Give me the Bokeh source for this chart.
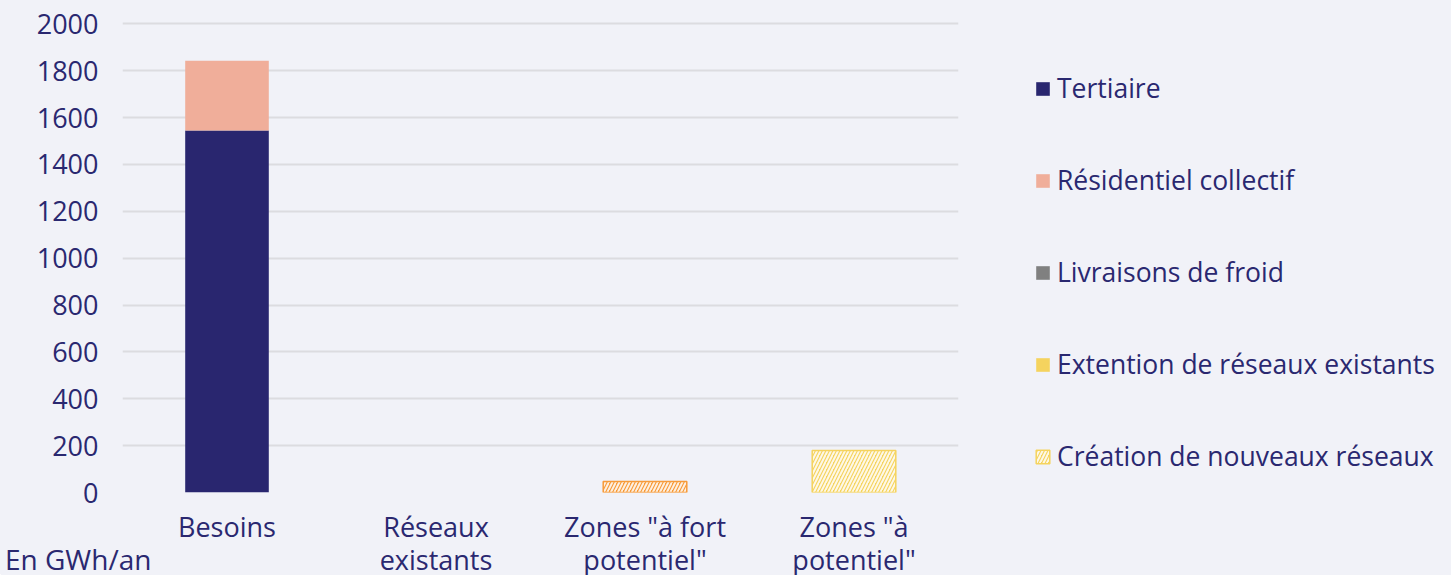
from bokeh.plotting import figure
from bokeh.models import ColumnDataSource, Legend, LegendItem, FactorRange, Range1d, Div
from bokeh.layouts import column
from bokeh.embed import file_html
from bokeh.resources import INLINE

categories = ["Besoins", "Réseaux\nexistants", "Zones \"à fort\npotentiel\"", "Zones \"à\npotentiel\""]
tertiaire = [1545, 0, 0, 0]
residentiel = [297, 0, 0, 0]
froid = [0, 0, 0, 0]
extension = [0, 0, 0, 0]
creation = [0, 0, 47, 179]
creation_colors = ["#F5D35E", "#F5D35E", "#F79B3A", "#F5D35E"]
series_names = ["Tertiaire", "Résidentiel collectif", "Livraisons de froid",
                "Extention de réseaux existants", "Création de nouveaux réseaux"]
series_colors = ["#29266F", "#F0AE9A", "#808080", "#F5D35E"]

TEXT = "#2A2870"
BG = "#F1F2F8"
FONT = "Open Sans"
FS = "27px"

base = [a + b + c + d for a, b, c, d in zip(tertiaire, residentiel, froid, extension)]
src = ColumnDataSource(dict(cat=categories, t=tertiaire, r=residentiel, f=froid, e=extension,
                            c=creation, base=base, top=[b + c for b, c in zip(base, creation)],
                            ccol=creation_colors,
                            calpha=[1.0 if v > 0 else 0.0 for v in creation]))

p = figure(x_range=FactorRange(*categories), y_range=Range1d(0, 2010),
           width=1443, frame_width=836, frame_height=471, output_backend="svg", toolbar_location=None,
           background_fill_color=BG, border_fill_color=BG,
           min_border_left=122, min_border_top=21, min_border_bottom=0, min_border_right=485)
p.outline_line_color = None

rs = p.vbar_stack(["t", "r", "f", "e"], x="cat", width=0.4, source=src,
                  color=series_colors, line_color=None)
rc = p.vbar(x="cat", bottom="base", top="top", width=0.4, source=src,
            fill_color="ccol", line_color="ccol", line_width=1.5, line_alpha="calpha",
            hatch_pattern="/", hatch_color="white", hatch_scale=7, hatch_weight=2, hatch_alpha=0.85)

items = [LegendItem(label=n, renderers=[r]) for n, r in zip(series_names[:4], rs)]
items.append(LegendItem(label=series_names[4], renderers=[rc], index=3))
legend = Legend(items=items, location=(76, 18), orientation="vertical",
                label_text_font=FONT, label_text_font_size="26.5px", label_text_color=TEXT,
                glyph_width=17, glyph_height=17, label_standoff=6,
                label_height=24, spacing=56, padding=0, margin=0,
                border_line_color=None, background_fill_alpha=0)
p.add_layout(legend, "right")

p.xgrid.grid_line_color = None
p.ygrid.grid_line_color = "#DCDCE0"
p.ygrid.grid_line_width = 2

p.yaxis.axis_line_color = None
p.yaxis.major_tick_line_color = None
p.yaxis.minor_tick_line_color = None
p.yaxis.major_label_text_font = FONT
p.yaxis.major_label_text_font_size = FS
p.yaxis.major_label_text_color = TEXT
p.yaxis.major_label_standoff = 18
p.yaxis.ticker = [0, 200, 400, 600, 800, 1000, 1200, 1400, 1600, 1800, 2000]

p.xaxis.axis_line_color = None
p.xaxis.major_tick_line_color = None
p.xaxis.major_label_text_font = FONT
p.xaxis.major_label_text_font_size = FS
p.xaxis.major_label_text_color = TEXT
p.xaxis.major_label_standoff = 9
p.xaxis.major_label_text_line_height = 0.9

note = Div(text="En GWh/an", margin=(-36, 0, 0, 5),
           styles={"font-family": FONT, "font-size": "28px", "color": TEXT, "line-height": "30px"})

layout = column(p, note, spacing=0, styles={"background-color": BG})
open("out.html", "w").write(file_html(layout, INLINE))
